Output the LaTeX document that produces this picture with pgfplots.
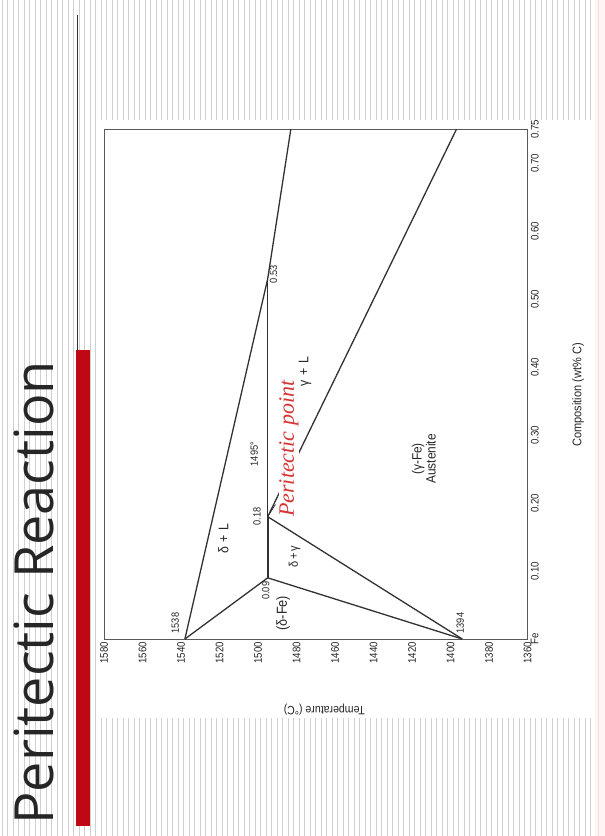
\documentclass[border=0pt]{standalone}
\usepackage{pgfplots}
\pgfplotsset{compat=1.18}
\usepackage{fontspec}
\setmainfont{Liberation Sans}
\newfontfamily\narrow[FakeStretch=0.88]{Liberation Sans}
\newfontfamily\titlefont{Open Sans}
\newfontfamily\serifit{Liberation Serif}
\definecolor{barred}{RGB}{192,8,20}
\definecolor{perired}{RGB}{214,52,52}
\definecolor{stripe}{RGB}{208,208,208}
\definecolor{linegray}{RGB}{50,50,50}
\begin{document}
\begin{tikzpicture}
\useasboundingbox (0pt,0pt) rectangle (605pt,836pt);
\fill[white] (0pt,0pt) rectangle (605pt,836pt);
\foreach \i in {0,...,109} {\draw[stripe, line width=1pt] ({2pt+\i*5.5pt},0pt) -- ({2pt+\i*5.5pt},836pt);}
\fill[white] (100pt,118pt) rectangle (595pt,716pt);
\fill[red!4] (595pt,0pt) rectangle (605pt,836pt);
\draw[red!15, line width=0.6pt] (598pt,0pt) -- (598pt,836pt);
\fill[barred] (76pt,10pt) rectangle (90pt,486pt);
\draw[black!80, line width=0.9pt] (77.5pt,486pt) -- (77.5pt,821pt);
\node[rotate=90, anchor=base west, inner sep=0pt, font=\titlefont\fontsize{54}{60}\selectfont, text=black!85] at (53pt,11pt) {Peritectic Reaction};
\begin{axis}[
  at={(104pt,197pt)}, anchor=south west,
  scale only axis, width=423.7pt, height=509.7pt,
  xmin=1360, xmax=1580, x dir=reverse,
  ymin=0, ymax=0.75,
  axis line style={black!65, line width=0.9pt},
  xtick={1360,1380,1400,1420,1440,1460,1480,1500,1520,1540,1560,1580},
  xticklabels={1360,1380,1400,1420,1440,1460,1480,1500,1520,1540,1560,1580},
  ytick={0,0.1,0.2,0.3,0.4,0.5,0.6,0.7,0.75},
  yticklabels={Fe,0.10,0.20,0.30,0.40,0.50,0.60,0.70,0.75},
  yticklabel pos=right,
  major tick length=0pt,
  tick label style={font=\narrow\fontsize{11}{13}\selectfont, text=black!85},
  xticklabel style={rotate=90, anchor=east, inner sep=3pt},
  yticklabel style={rotate=90, anchor=north, inner sep=3pt},
  xlabel={Temperature (°C)},
  ylabel={Composition (wt\% C)},
  every axis x label/.style={at={(axis description cs:0.52,-0.139)}, rotate=180, anchor=center, font=\narrow\fontsize{12}{14}\selectfont, text=black!85},
  every axis y label/.style={at={(axis description cs:1.119,0.479)}, rotate=90, anchor=center, font=\narrow\fontsize{12.5}{14}\selectfont, text=black!85},
  clip=false,
]
\addplot[linegray, line width=1.3pt] coordinates {(1538,0) (1495,0.53) (1483,0.75)};
\addplot[linegray, line width=1.3pt] coordinates {(1538,0) (1495,0.09)};
\addplot[linegray, line width=1.3pt] coordinates {(1394,0) (1495,0.09)};
\addplot[linegray, line width=1.3pt] coordinates {(1394,0) (1495,0.18)};
\addplot[linegray, line width=1.3pt] coordinates {(1495,0.09) (1495,0.53)};
\addplot[linegray, line width=2.2pt] coordinates {(1495,0.09) (1495,0.18)};
\addplot[linegray, line width=1.3pt] coordinates {(1495,0.18) (1397,0.75)};
\addplot[linegray, line width=0.8pt] coordinates {(1495,0.18) (1491,0.198)};
\begin{scope}[every node/.style={rotate=90, font=\narrow\fontsize{10.5}{12}\selectfont, text=black!85, inner sep=1pt}]
\node at (axis cs:1543,0.0235) {1538};
\node at (axis cs:1395,0.0235) {1394};
\node at (axis cs:1496,0.071) {0.09};
\node at (axis cs:1500.5,0.18) {0.18};
\node at (axis cs:1502,0.272) {1495°};
\node at (axis cs:1492,0.537) {0.53};
\node[font=\narrow\fontsize{14}{15}\selectfont] at (axis cs:1518,0.148) {δ\,\,+\,\,L};
\node[font=\narrow\fontsize{12.5}{14}\selectfont] at (axis cs:1481,0.121) {δ\,+\,γ};
\node[font=\narrow\fontsize{14}{15}\selectfont] at (axis cs:1475.6,0.394) {γ\,\,+\,\,L};
\node[font=\narrow\fontsize{14.5}{15}\selectfont] at (axis cs:1487,0.038) {(δ-Fe)};
\node[font=\narrow\fontsize{13.5}{14}\selectfont, align=center] at (axis cs:1414,0.265) {(γ-Fe)\\Austenite};
\end{scope}
\node[rotate=90, anchor=west, inner sep=0pt, fill=white, font=\serifit\itshape\fontsize{22}{24}\selectfont, text=perired] at (axis cs:1484,0.1795) {Peritectic point};
\end{axis}
\end{tikzpicture}
\end{document}
